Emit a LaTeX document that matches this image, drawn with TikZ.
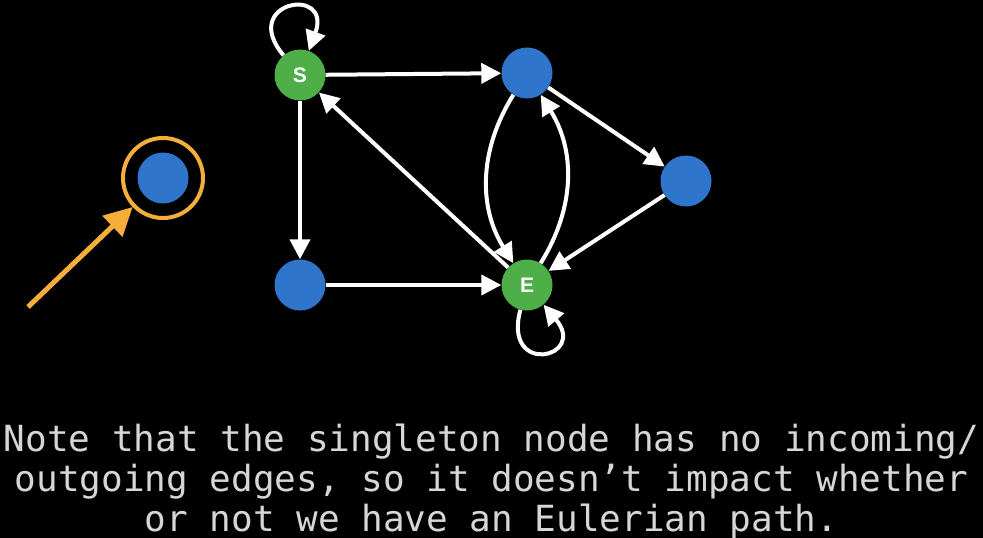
\documentclass[tikz,border=0pt]{standalone}
\usepackage{fontspec}
\setmonofont{DejaVu Sans Mono}
\setsansfont{Liberation Sans}
\usetikzlibrary{arrows.meta}
\definecolor{nodeblue}{RGB}{47,117,204}
\definecolor{nodegreen}{RGB}{78,174,72}
\definecolor{ringorange}{RGB}{246,174,58}
\definecolor{notegray}{RGB}{214,214,214}
\begin{document}
\begin{tikzpicture}[x=1pt,y=1pt]
    \tikzstyle{every node}+=[inner sep=0pt]
    \tikzstyle{vert}=[circle, minimum size=51pt, fill=nodeblue]
    \tikzstyle{term}=[vert, fill=nodegreen, text=white, font=\sffamily\bfseries\fontsize{21}{21}\selectfont]
    \tikzstyle{edge}=[white, line width=4pt, -{Triangle[length=20pt,width=20pt]}]
    \tikzstyle{hint}=[ringorange, line width=5pt, -{Triangle[length=28pt,width=28pt]}]
    \fill [black] (0,0) rectangle (983,-538);
    \useasboundingbox (0,0) rectangle (983,-538);
    \node [term] (s) at (300,-75) {S};
    \node [vert] (a) at (527,-73) {};
    \node [vert] (b) at (686,-181) {};
    \node [term] (e) at (527,-285) {E};
    \node [vert] (c) at (300,-285) {};
    \node [vert] (lone) at (163,-178) {};
    \node [draw=ringorange, line width=4pt, circle, minimum size=80pt] (ring) at (lone) {};
    \coordinate (tail) at (28,-307);
    \draw [hint] (tail) -- (ring);
    \draw [edge] (s) -- (a);
    \draw [edge] (s) -- (c);
    \draw [edge] (c) -- (e);
    \draw [edge] (e) -- (s);
    \draw [edge] (a) -- (b);
    \draw [edge] (b) -- (e);
    \draw [edge] (a) to [bend right=32] (e);
    \draw [edge] (e) to [bend right=32] (a);
    \draw [edge] (s) to [out=130,in=70,looseness=7] (s);
    \draw [edge] (e) to [out=-105,in=-50,looseness=7.5] (e);
    \node [text=notegray, align=center, font=\ttfamily\fontsize{36}{40}\selectfont] (note) at (491.5,-481)
        {Note that the singleton node has no incoming/\\outgoing edges, so it doesn’t impact whether\\or not we have an Eulerian path.};
\end{tikzpicture}
\end{document}
